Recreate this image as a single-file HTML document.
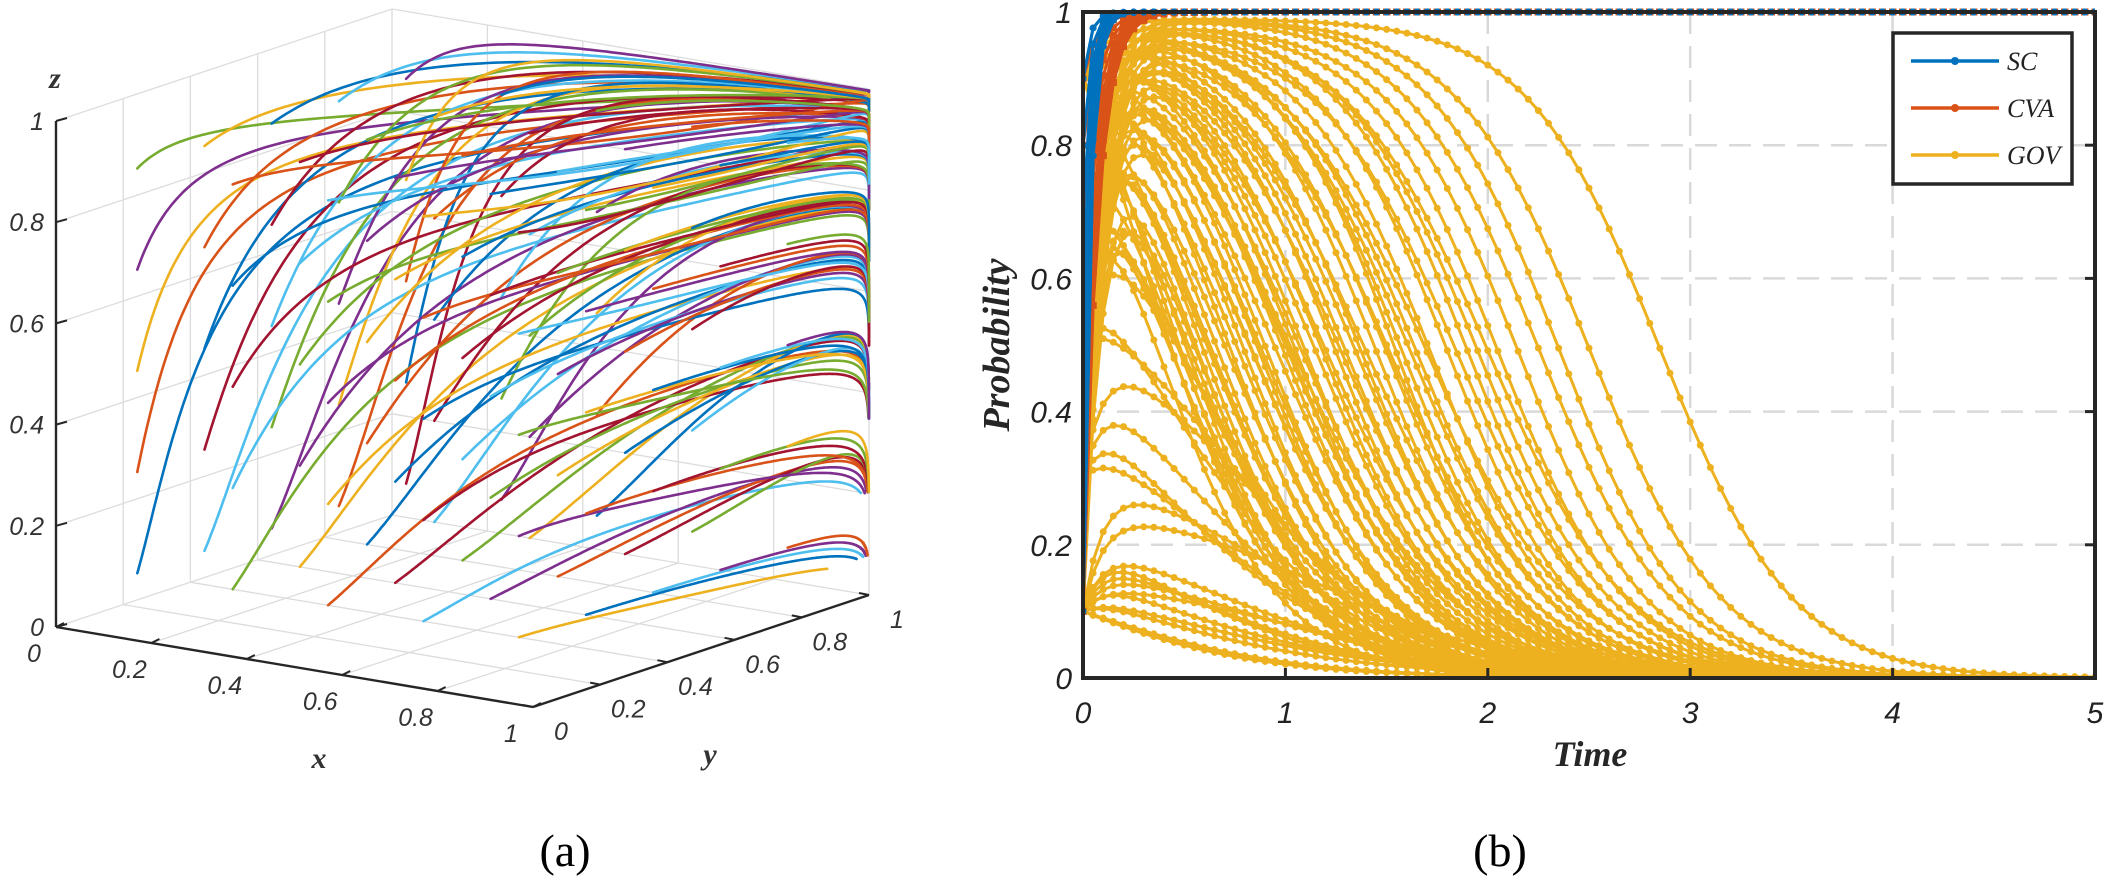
<!DOCTYPE html>
<html><head><meta charset="utf-8"><style>
html,body{margin:0;padding:0;background:#fff;}
svg{display:block;}
</style></head><body>
<svg id="root" width="2109" height="888" viewBox="0 0 2109 888" xmlns="http://www.w3.org/2000/svg">
<g id="panelA"></g>
<g id="panelB"></g>
<text x="565" y="866" font-family="Liberation Serif, serif" font-size="46" text-anchor="middle">(a)</text>
<text x="1500" y="866" font-family="Liberation Serif, serif" font-size="46" text-anchor="middle">(b)</text>
</svg>
<script>
// ---------- Panel A data ----------
const startLevels = [0.1, 0.3, 0.5, 0.7, 0.9];
const axisTicks3d = [0, 0.2, 0.4, 0.6, 0.8, 1];
const tickLabels3d = ['0', '0.2', '0.4', '0.6', '0.8', '1'];
const matlabColors = ['#0072BD', '#D95319', '#EDB120', '#7E2F8E', '#77AC30', '#4DBEEE', '#A2142F'];

// ---------- Panel B data ----------
const timeTicks = [0, 1, 2, 3, 4, 5];
const timeTickLabels = ['0', '1', '2', '3', '4', '5'];
const probTicks = [0, 0.2, 0.4, 0.6, 0.8, 1];
const probTickLabels = ['0', '0.2', '0.4', '0.6', '0.8', '1'];
const scStarts = [0.1, 0.3, 0.5, 0.7, 0.9, 0.2, 0.4, 0.6, 0.8, 0.1, 0.5, 0.9];
const cvaStarts = [0.1, 0.3, 0.5, 0.7, 0.9, 0.2, 0.4, 0.6, 0.8, 0.3, 0.7, 0.1];
const govStart = [0.9,0.7,0.9,0.5,0.7,0.9,0.3,0.5,0.7,0.9,0.3,0.5,0.1,0.7,0.9,0.3,0.5,0.1,0.7,0.9,0.3,0.5,0.1,0.7,0.9,0.3,0.5,0.1,0.7,0.9,0.3,0.5,
  0.7,0.5,0.3,0.7,0.5,0.3,0.9,0.1,
  0.1,0.1,0.1,0.1,0.1,0.1,0.3,0.3,0.5,0.5,0.7,0.9,0.3,0.1,0.1,
  0.5,0.7,0.3,0.9,0.5,0.1,0.7,0.3,0.9,0.5,0.1,0.7,0.3,0.5,0.9,0.1,0.3,0.7,0.5,0.1,0.1,0.1,0.1,0.3,0.5];
const govPeak = [0.99,0.99,0.99,0.99,0.98,0.98,0.98,0.98,0.98,0.97,0.97,0.97,0.97,0.97,0.96,0.96,0.96,0.96,0.95,0.95,0.95,0.94,0.94,0.93,0.93,0.92,0.9,0.9,0.88,0.88,0.85,0.8,
  0.98,0.97,0.96,0.95,0.94,0.93,0.97,0.95,
  0.2,0.18,0.15,0.12,0.1,0.1,0.4,0.35,0.6,0.55,0.75,0.9,0.5,0.3,0.25,
  0.97,0.97,0.96,0.96,0.95,0.95,0.94,0.94,0.93,0.92,0.92,0.91,0.9,0.89,0.88,0.86,0.85,0.83,0.8,0.2,0.16,0.14,0.12,0.45,0.7];
const govMid = [2.85,2.5,2.35,2.25,2.15,2.05,1.95,1.9,1.8,1.72,1.65,1.58,1.5,1.45,1.38,1.3,1.25,1.18,1.1,1.05,0.98,0.9,0.85,0.78,0.7,0.62,0.55,0.5,0.45,0.4,0.35,0.3,
  2.0,1.7,1.4,1.2,1.0,0.8,1.55,1.0,
  0.3,0.5,0.2,0.1,0.0,-0.2,0.3,0.6,0.4,0.7,0.5,0.25,0.8,0.9,1.2,
  1.85,1.62,1.52,1.35,1.28,1.15,1.08,1.02,0.95,0.88,0.82,0.75,0.68,0.6,0.58,0.52,0.48,0.42,0.38,0.6,0.8,1.0,0.4,0.5,0.6];
const govWidth = [0.33,0.33,0.32,0.33,0.32,0.32,0.33,0.32,0.32,0.32,0.33,0.32,0.33,0.32,0.32,0.33,0.32,0.33,0.32,0.32,0.33,0.32,0.33,0.32,0.32,0.33,0.32,0.33,0.32,0.32,0.33,0.32,
  0.35,0.36,0.36,0.36,0.36,0.36,0.3,0.4,
  0.5,0.5,0.6,0.6,0.5,0.5,0.5,0.45,0.45,0.45,0.4,0.35,0.45,0.5,0.5,
  0.34,0.34,0.35,0.34,0.35,0.34,0.35,0.34,0.35,0.34,0.35,0.34,0.35,0.34,0.35,0.34,0.35,0.34,0.35,0.55,0.55,0.55,0.6,0.45,0.4];

const NS = 'http://www.w3.org/2000/svg';
function mk(tag, attrs, parent){ const e=document.createElementNS(NS,tag); for(const k in attrs) e.setAttribute(k,attrs[k]); parent.appendChild(e); return e; }

// ================= PANEL A =================
const A = document.getElementById('panelA');
function P(x,y,z){ return [56+477*x+336*y, 627+80*x-112*y-506*z]; }
function line3(a,b,stroke,w,name,parent){
  const p=P(...a), q=P(...b);
  const l=mk('line',{x1:p[0],y1:p[1],x2:q[0],y2:q[1],stroke:stroke,'stroke-width':w},parent);
  
  
  return l;
}
const gridA = mk('g',{},A);


const gc='#dcdcdc';
axisTicks3d.forEach(v=>{
  if(v>0){
    line3([v,1,0],[v,1,1],gc,1.3,'grid-back-vertical',gridA);
    line3([0,v,0],[0,v,1],gc,1.3,'grid-left-vertical',gridA);
    line3([0,1,v],[1,1,v],gc,1.3,'grid-back-horizontal',gridA);
    line3([0,0,v],[0,1,v],gc,1.3,'grid-left-horizontal',gridA);
  }
  line3([v,0,0],[v,1,0],gc,1.3,'grid-floor-x',gridA);
  line3([0,v,0],[1,v,0],gc,1.3,'grid-floor-y',gridA);
});
// trajectories
const trajG = mk('g',{fill:'none','stroke-width':2.6,'stroke-linecap':'round'},A);


let ci=0;
startLevels.forEach(x0=>startLevels.forEach(y0=>startLevels.forEach(z0=>{
  let x=x0,y=y0,z=z0; const pts=[];
  for(let i=0;i<=380;i++){
    pts.push(P(x,y,z));
    const dx=1.8*x*(1-x)*(z+0.2), dy=1.8*y*(1-y)*(z+0.2), dz=z*(1-z)*(3.5*(1-x)-0.12);
    x+=dx*0.02; y+=dy*0.02; z+=dz*0.02;
  }
  const p=mk('path',{d:'M'+pts.map(q=>q[0].toFixed(1)+','+q[1].toFixed(1)).join('L'),stroke:matlabColors[ci%7]},trajG);
  
  
  ci++;
})));
// axes
const axG = mk('g',{},A);


line3([0,0,0],[0,0,1],'#262626',2.4,'z-axis',axG);
line3([0,0,0],[1,0,0],'#262626',2.4,'x-axis',axG);
line3([1,0,0],[1,1,0],'#262626',2.4,'y-axis',axG);
axisTicks3d.forEach((v,i)=>{
  let p=P(0,0,v);
  let t=mk('line',{x1:p[0],y1:p[1],x2:p[0]+11,y2:p[1]-3,stroke:'#262626','stroke-width':2},axG);
  
  
  let tx=mk('text',{x:p[0]-12,y:p[1]+9,'text-anchor':'end','font-family':'Liberation Sans, sans-serif','font-size':25,'font-style':'italic',fill:'#333'},axG);
  tx.textContent=tickLabels3d[i];
  
  
  p=P(v,0,0);
  t=mk('line',{x1:p[0],y1:p[1],x2:p[0]+8,y2:p[1]-4,stroke:'#262626','stroke-width':2},axG);
  
  
  tx=mk('text',{x:p[0]-22,y:p[1]+35,'text-anchor':'middle','font-family':'Liberation Sans, sans-serif','font-size':25,'font-style':'italic',fill:'#333'},axG);
  tx.textContent=tickLabels3d[i];
  
  
  p=P(1,v,0);
  t=mk('line',{x1:p[0],y1:p[1],x2:p[0]-10,y2:p[1]-2,stroke:'#262626','stroke-width':2},axG);
  
  
  tx=mk('text',{x:p[0]+28,y:p[1]+33,'text-anchor':'middle','font-family':'Liberation Sans, sans-serif','font-size':25,'font-style':'italic',fill:'#333'},axG);
  tx.textContent=tickLabels3d[i];
  
  
});
[['z',55,88,'z-axis-title'],['x',319,768,'x-axis-title'],['y',710,764,'y-axis-title']].forEach(a=>{
  const t=mk('text',{x:a[1],y:a[2],'text-anchor':'middle','font-family':'Liberation Serif, serif','font-size':30,'font-style':'italic','font-weight':'bold',fill:'#333'},A);
  t.textContent=a[0];
  
  
});

// ================= PANEL B =================
const B = document.getElementById('panelB');
const L=1083,R=2095,T=12,Bt=678;
const sx=t=>L+(R-L)*t/5, sy=v=>Bt-(Bt-T)*v;
mk('defs',{},B).innerHTML='<clipPath id="clipB"><rect x="'+L+'" y="'+(T-6)+'" width="'+(R-L)+'" height="'+(Bt-T+6)+'"/></clipPath>';
const gridB=mk('g',{stroke:'#d9d9d9','stroke-width':2.5,'stroke-dasharray':'22,12'},B);


timeTicks.slice(1,5).forEach(t=>{ const l=mk('line',{x1:sx(t),y1:T,x2:sx(t),y2:Bt},gridB);   });
probTicks.slice(1,5).forEach(v=>{ const l=mk('line',{x1:L,y1:sy(v),x2:R,y2:sy(v)},gridB);   });
const plotG=mk('g',{'clip-path':'url(#clipB)'},B);


const dt=0.05, N=100;
function drawSeries(vals,color,name,marker){
  const g=mk('g',{},plotG);
  
  
  const pts=vals.map((v,i)=>[sx(i*dt),sy(v)]);
  mk('path',{d:'M'+pts.map(p=>p[0].toFixed(1)+','+p[1].toFixed(1)).join('L'),fill:'none',stroke:color,'stroke-width':3},g);
  let d='';
  pts.forEach(p=>{ d+= marker==='s' ? 'M'+(p[0]-3.5)+','+(p[1]-3.5)+'h7v7h-7z' : 'M'+(p[0]+3.5)+','+p[1]+'a3.5,3.5 0 1,0 -7,0a3.5,3.5 0 1,0 7,0'; });
  mk('path',{d:d,fill:color},g);
}
govStart.forEach((s,k)=>{
  const pk=govPeak[k], m=govMid[k], w=govWidth[k];
  const s0=1/(1+Math.exp((0-m)/w));
  const vals=[];
  for(let i=0;i<=N;i++){ const t=i*dt; const r=pk-(pk-s)*Math.exp(-t/0.1); vals.push(r*(1/(1+Math.exp((t-m)/w)))/s0); }
  drawSeries(vals,'#EDB120','gov-curve','o');
});
cvaStarts.forEach(s=>{
  const vals=[]; for(let i=0;i<=N;i++){ const t=i*dt; vals.push(1-(1-s)*Math.exp(-t/0.07)); }
  drawSeries(vals,'#D95319','cva-curve','s');
});
scStarts.forEach(s=>{
  const vals=[]; for(let i=0;i<=N;i++){ const t=i*dt; vals.push(1-(1-s)*Math.exp(-t/0.035)); }
  drawSeries(vals,'#0072BD','sc-curve','o');
});
// frame
const fr=mk('rect',{x:L,y:T,width:R-L,height:Bt-T,fill:'none',stroke:'#262626','stroke-width':4},B);


timeTicks.forEach((t,i)=>{
  const l=mk('line',{x1:sx(t),y1:Bt,x2:sx(t),y2:Bt-10,stroke:'#262626','stroke-width':3},B);
  
  
  const tx=mk('text',{x:sx(t),y:723,'text-anchor':'middle','font-family':'Liberation Sans, sans-serif','font-size':30,'font-style':'italic',fill:'#222'},B);
  tx.textContent=timeTickLabels[i];
  
  
});
probTicks.forEach((v,i)=>{
  const l=mk('line',{x1:R,y1:sy(v),x2:R-10,y2:sy(v),stroke:'#262626','stroke-width':3},B);
  
  
  const tx=mk('text',{x:1072,y:sy(v)+11,'text-anchor':'end','font-family':'Liberation Sans, sans-serif','font-size':30,'font-style':'italic',fill:'#222'},B);
  tx.textContent=probTickLabels[i];
  
  
});
let t=mk('text',{x:1590,y:766,'text-anchor':'middle','font-family':'Liberation Serif, serif','font-size':36,'font-style':'italic','font-weight':'bold',fill:'#262626'},B);
t.textContent='Time';


t=mk('text',{x:0,y:0,transform:'translate(1009,345) rotate(-90)','text-anchor':'middle','font-family':'Liberation Serif, serif','font-size':38,'font-style':'italic','font-weight':'bold',fill:'#262626'},B);
t.textContent='Probability';


// legend
const lg=mk('g',{},B);


mk('rect',{x:1893,y:33,width:179,height:151,fill:'#fff',stroke:'#262626','stroke-width':3.5},lg);
[['SC','#0072BD',61,'legend-entry-sc'],['CVA','#D95319',108,'legend-entry-cva'],['GOV','#EDB120',155,'legend-entry-gov']].forEach(e=>{
  const g=mk('g',{},lg);
  
  
  mk('line',{x1:1911,y1:e[2],x2:1999,y2:e[2],stroke:e[1],'stroke-width':3.5},g);
  mk('circle',{cx:1955,cy:e[2],r:4,fill:e[1]},g);
  const tx=mk('text',{x:2007,y:e[2]+9,'font-family':'Liberation Serif, serif','font-size':26,'font-style':'italic',fill:'#222'},g);
  tx.textContent=e[0];
});
</script>
</body></html>
